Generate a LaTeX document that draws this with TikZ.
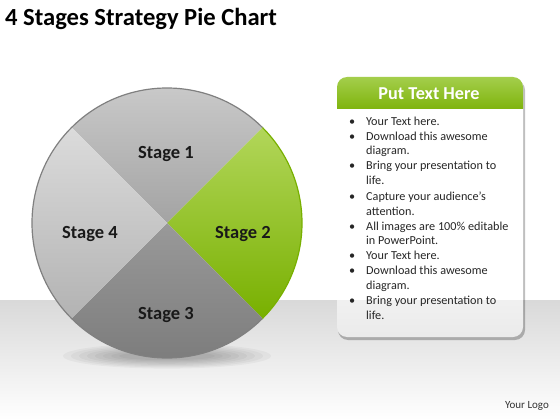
\documentclass[tikz,border=0pt]{standalone}
\usepackage{fontspec}
\setmainfont{Carlito}
\usetikzlibrary{calc}
\definecolor{grn}{HTML}{8DC21F}
\definecolor{grnL}{HTML}{B2D65A}
\definecolor{grnD}{HTML}{78B000}
\tikzset{
  stagelbl/.style={font=\fontsize{18.5}{21}\selectfont\bfseries, text=black!90},
  bul/.style={anchor=base west, font=\fontsize{12.2}{14}\selectfont, text=black!85, inner sep=0pt},
}
\begin{document}
\begin{tikzpicture}[x=1pt,y=-1pt]
\useasboundingbox (0,0) rectangle (560,420);
% background
\fill[white] (0,0) rectangle (560,300);
\shade[top color=black!15, bottom color=white] (0,300) rectangle (560,420);
% title
\node[anchor=base west, font=\fontsize{24.6}{28}\selectfont\bfseries, inner sep=0pt] (title) at (5,26) {4 Stages Strategy Pie Chart};
% shadow under sphere
\foreach \i in {1,...,8} {
  \fill[black, opacity=0.035] (167,356) ellipse ({40+8*\i} and {3+1.2*\i});
}
% sectors
\coordinate (c) at (167,223);
\def\R{135}
\shade[top color=black!20, bottom color=black!36] (c) -- ($(c)+(225:\R)$) arc[start angle=225, end angle=315, radius=\R] -- cycle;
\shade[top color=grnL, bottom color=grnD] (c) -- ($(c)+(-45:\R)$) arc[start angle=-45, end angle=45, radius=\R] -- cycle;
\shade[top color=black!40, bottom color=black!52] (c) -- ($(c)+(45:\R)$) arc[start angle=45, end angle=135, radius=\R] -- cycle;
\shade[top color=black!14, bottom color=black!30] (c) -- ($(c)+(135:\R)$) arc[start angle=135, end angle=225, radius=\R] -- cycle;
% rims
\draw[black!50, line width=1.2] ($(c)+(45:\R)$) arc[start angle=45, end angle=315, radius=\R];
\draw[grnD, line width=1.2] ($(c)+(-45:\R)$) arc[start angle=-45, end angle=45, radius=\R];
% labels
\node[stagelbl] (s1) at (166,154) {Stage 1};
\node[stagelbl] (s2) at (243,234) {Stage 2};
\node[stagelbl] (s3) at (166,315) {Stage 3};
\node[stagelbl] (s4) at (90,234) {Stage 4};
% text box
\fill[black, opacity=0.25, rounded corners=10] (338,80) rectangle (525,340);
\shade[top color=white, bottom color=black!8, middle color=white, rounded corners=10] (337,77) rectangle (523,337);
\fill[white] (337,100) rectangle (523,300);
\shade[top color=grn!80!white, bottom color=grnD!95!white] (337,109) [rounded corners=10]-- (337,77) -- (523,77) [sharp corners]-- (523,109) -- cycle;
\node[font=\fontsize{18.2}{21}\selectfont\bfseries, text=white] (hdr) at (429,94) {Put Text Here};
\foreach \y/\b/\t in {
 125/1/Your Text here.,
 140/1/Download this awesome,
 154/0/diagram.,
 169/1/Bring your presentation to,
 184/0/life.,
 200/1/Capture your audience’s,
 215/0/attention.,
 230/1/All images are 100\% editable,
 244/0/in PowerPoint.,
 259/1/Your Text here.,
 274/1/Download this awesome,
 289/0/diagram.,
 304/1/Bring your presentation to,
 319/0/life.} {
  \node[bul] at (366,\y) {\t};
  \ifnum\b=1 \node[bul] at (349,\y) {•}; \fi
}
% logo
\node[font=\fontsize{11}{13}\selectfont, text=black!80] (logo) at (527,406) {Your Logo};
\end{tikzpicture}
\end{document}
